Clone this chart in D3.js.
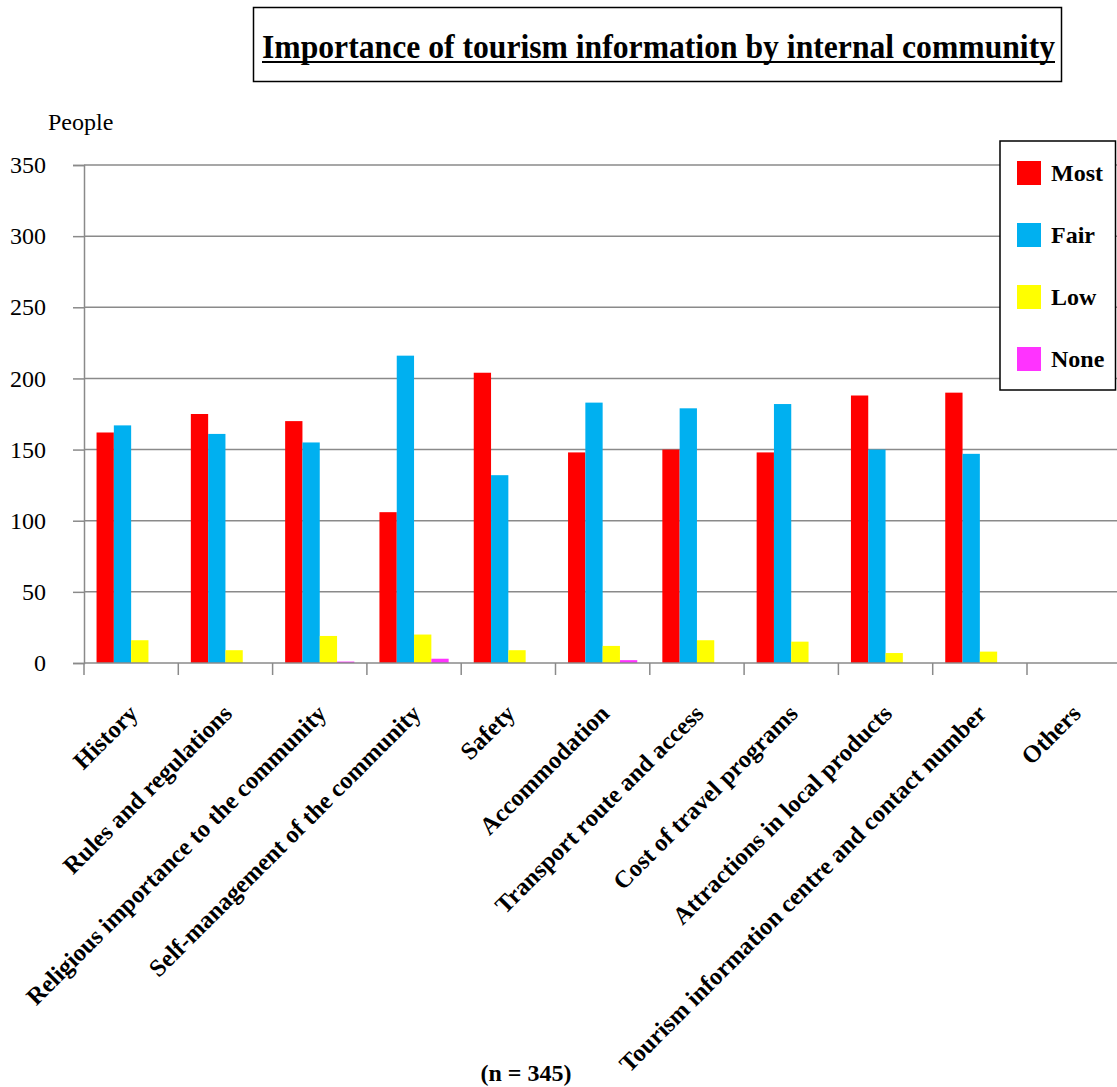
<!DOCTYPE html>
<html>
<head>
<meta charset="utf-8">
<script src="https://cdn.jsdelivr.net/npm/d3@7/dist/d3.min.js"></script>
<style>
  html, body { margin: 0; padding: 0; background: #fff; }
  svg { display: block; font-family: "Liberation Serif", "Times New Roman", serif; }
</style>
</head>
<body>
<svg id="chart" width="1117" height="1087"></svg>
<script>
// Topics asked about
const categories = [
  "History",
  "Rules and regulations",
  "Religious importance to the community",
  "Self-management of the community",
  "Safety",
  "Accommodation",
  "Transport route and access",
  "Cost of travel programs",
  "Attractions in local products",
  "Tourism information centre and contact number",
  "Others"
];

// Level of importance (number of people)
const seriesNames = ["Most", "Fair", "Low", "None"];
const most = [162, 175, 170, 106, 204, 148, 150, 148, 188, 190, 0];
const fair = [167, 161, 155, 216, 132, 183, 179, 182, 150, 147, 0];
const low  = [16, 9, 19, 20, 9, 12, 16, 15, 7, 8, 0];
const none = [0, 0, 1, 3, 0, 2, 0, 0, 0, 0, 0];
const seriesColors = ["#FF0000", "#00B0F0", "#FFFF00", "#FF33FF"];

const yTicks = [0, 50, 100, 150, 200, 250, 300, 350];

const seriesValues = [most, fair, low, none];
const rows = categories.map((c, i) => ({
  category: c,
  values: seriesNames.map((s, j) => ({ key: s, value: seriesValues[j][i] }))
}));

const svg = d3.select("#chart");
const serif = "Liberation Serif, Times New Roman, serif";

// Layout
const plotLeft = 84, plotBottom = 663, plotTop = 165;
const catStep = 94.3;
const plotRight = plotLeft + catStep * categories.length;

const x = d3.scaleBand().domain(categories).range([plotLeft, plotRight]).padding(0);
const xInner = d3.scaleBand().domain(seriesNames).range([0, x.bandwidth()])
  .paddingInner(0).paddingOuter(0.725);
const y = d3.scaleLinear().domain([0, 350]).range([plotBottom, plotTop]);
const color = d3.scaleOrdinal().domain(seriesNames).range(seriesColors);

// Title box
svg.append("rect")
  .attr("x", 253.5).attr("y", 7.5).attr("width", 808).attr("height", 74)
  .attr("fill", "#fff").attr("stroke", "#000").attr("stroke-width", 1.5);
svg.append("text")
  .attr("x", 262).attr("y", 58)
  .attr("font-size", 33).attr("font-weight", "bold")
  .attr("textLength", 793).attr("lengthAdjust", "spacingAndGlyphs")
  .text("Importance of tourism information by internal community");
svg.append("line")
  .attr("x1", 262).attr("x2", 1055).attr("y1", 62).attr("y2", 62)
  .attr("stroke", "#000").attr("stroke-width", 2);

// Gridlines
svg.append("g")
  .selectAll("line")
  .data(yTicks.filter(t => t > 0))
  .join("line")
  .attr("x1", plotLeft).attr("x2", plotRight)
  .attr("y1", d => y(d)).attr("y2", d => y(d))
  .attr("stroke", "#8a8a8a").attr("stroke-width", 1.5);

// Y axis
const yAxis = svg.append("g")
  .attr("transform", `translate(${plotLeft},0)`)
  .call(d3.axisLeft(y).tickValues(yTicks).tickSize(11).tickPadding(27));
yAxis.select(".domain").attr("stroke", "#8a8a8a").attr("stroke-width", 1.5);
yAxis.selectAll(".tick line").attr("stroke", "#8a8a8a").attr("stroke-width", 1.5);
yAxis.selectAll(".tick text")
  .attr("font-family", serif)
  .attr("font-size", 24).attr("fill", "#000");

svg.append("text")
  .attr("x", 48).attr("y", 130)
  .attr("font-size", 24)
  .text("People");

// Bars
const groups = svg.append("g")
  .selectAll("g")
  .data(rows)
  .join("g")
  .attr("transform", d => `translate(${x(d.category)},0)`);

groups.selectAll("rect")
  .data(d => d.values)
  .join("rect")
  .attr("x", d => xInner(d.key))
  .attr("width", xInner.bandwidth())
  .attr("y", d => y(d.value))
  .attr("height", d => y(0) - y(d.value))
  .attr("fill", d => color(d.key));

// X axis line with boundary ticks
svg.append("line")
  .attr("x1", plotLeft).attr("x2", plotRight)
  .attr("y1", plotBottom).attr("y2", plotBottom)
  .attr("stroke", "#8a8a8a").attr("stroke-width", 1.5);
svg.append("g")
  .selectAll("line")
  .data(d3.range(categories.length + 1))
  .join("line")
  .attr("x1", i => plotLeft + i * x.step()).attr("x2", i => plotLeft + i * x.step())
  .attr("y1", plotBottom).attr("y2", plotBottom + 12)
  .attr("stroke", "#8a8a8a").attr("stroke-width", 1.5);

// Category labels
const xAxis = svg.append("g")
  .attr("transform", `translate(0,${plotBottom})`)
  .call(d3.axisBottom(x).tickSize(0));
xAxis.select(".domain").remove();
xAxis.selectAll(".tick text")
  .attr("font-family", serif)
  .attr("font-size", 24.5).attr("font-weight", "bold").attr("fill", "#000")
  .attr("text-anchor", "end")
  .attr("x", 0).attr("y", 0).attr("dy", 0)
  .attr("transform", "translate(8,52) rotate(-45)");

// Legend
const legend = svg.append("g");
legend.append("rect")
  .attr("x", 1000).attr("y", 141).attr("width", 115.5).attr("height", 249)
  .attr("fill", "#fff").attr("stroke", "#000").attr("stroke-width", 1.5);
const items = legend.selectAll("g.item")
  .data(seriesNames)
  .join("g")
  .attr("class", "item")
  .attr("transform", (d, i) => `translate(1017,${161 + i * 62})`);
items.append("rect")
  .attr("width", 24).attr("height", 24)
  .attr("fill", d => color(d));
items.append("text")
  .attr("x", 34).attr("y", 20)
  .attr("font-size", 24).attr("font-weight", "bold")
  .text(d => d);

// Sample size
svg.append("text")
  .attr("x", 526).attr("y", 1081)
  .attr("text-anchor", "middle")
  .attr("font-size", 24).attr("font-weight", "bold")
  .text("(n = 345)");
</script>
</body>
</html>
